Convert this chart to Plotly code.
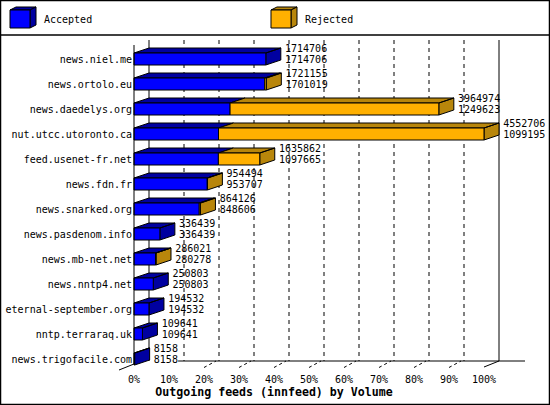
import plotly.graph_objects as go

# Veriler: innfeed giden beslemeler (toplam / kabul edilen)
hosts = ["news.niel.me", "news.ortolo.eu", "news.daedelys.org", "nut.utcc.utoronto.ca",
         "feed.usenet-fr.net", "news.fdn.fr", "news.snarked.org", "news.pasdenom.info",
         "news.mb-net.net", "news.nntp4.net", "eternal-september.org", "nntp.terraraq.uk",
         "news.trigofacile.com"]
total = [1714706, 1721155, 3964974, 4552706, 1635862, 954494, 864126, 336439,
         286021, 250803, 194532, 109641, 8158]
accepted = [1714706, 1701019, 1249623, 1099195, 1097665, 953707, 848606, 336439,
            280278, 250803, 194532, 109641, 8158]
pct_ticks = [0, 10, 20, 30, 40, 50, 60, 70, 80, 90, 100]

BLUE = "#0000FF"
BLUE_DARK = "#0000A0"
ORANGE = "#FFB000"
ORANGE_DARK = "#B8860B"
FONT = "DejaVu Sans Mono"

W, H = 550, 405
PLOT_H = 372           # plot area goes from top of page down to pixel 372
X0, XSCALE = 134, 3.5  # pixel of 0 %, pixels per percent
Y0, YSCALE = 59, 25    # pixel of first bar centre, pixels per bar

dx = 15 / XSCALE       # 3D depth in axis units
dy = 5 / YSCALE
h = 6 / YSCALE         # half height of a bar front

vmax = max(total)


def paper(px, py):
    # pixel -> paper coordinates (for the decorations outside the data)
    return px / W, 1 - py / PLOT_H


def poly(points):
    xs = [p[0] for p in points] + [points[0][0], None]
    ys = [p[1] for p in points] + [points[0][1], None]
    return xs, ys


faces = {"bf": ([], []), "bd": ([], []), "of": ([], []), "od": ([], [])}


def add(key, pts):
    xs, ys = poly(pts)
    faces[key][0].extend(xs)
    faces[key][1].extend(ys)


for i in range(len(hosts)):
    pa = accepted[i] / vmax * 100
    pt = total[i] / vmax * 100
    yt, yb = i - h, i + h
    add("bf", [(0, yt), (pa, yt), (pa, yb), (0, yb)])
    add("bd", [(0, yt), (pa, yt), (pa + dx, yt - dy), (dx, yt - dy)])
    if total[i] > accepted[i]:
        add("of", [(pa, yt), (pt, yt), (pt, yb), (pa, yb)])
        add("od", [(pa, yt), (pt, yt), (pt + dx, yt - dy), (pa + dx, yt - dy)])
        add("od", [(pt, yt), (pt + dx, yt - dy), (pt + dx, yb - dy), (pt, yb)])
    else:
        add("bd", [(pa, yt), (pa + dx, yt - dy), (pa + dx, yb - dy), (pa, yb)])

fig = go.Figure()
for key, col in [("bd", BLUE_DARK), ("od", ORANGE_DARK), ("bf", BLUE), ("of", ORANGE)]:
    fig.add_trace(go.Scatter(x=faces[key][0], y=faces[key][1], mode="lines",
                             fill="toself", fillcolor=col,
                             line=dict(color="black", width=1),
                             hoverinfo="skip", showlegend=False))

# Sayı etiketleri (üstte toplam, altta kabul edilen)
label_x = [t / vmax * 100 + dx + 1.2 for t in total]
fig.add_trace(go.Scatter(x=label_x, y=[i - 0.38 for i in range(len(hosts))],
                         text=[str(t) for t in total], mode="text",
                         textposition="middle right",
                         textfont=dict(family=FONT, size=10, color="black"),
                         hoverinfo="skip", showlegend=False))
fig.add_trace(go.Scatter(x=label_x, y=[i + 0.06 for i in range(len(hosts))],
                         text=[str(a) for a in accepted], mode="text",
                         textposition="middle right",
                         textfont=dict(family=FONT, size=10, color="black"),
                         hoverinfo="skip", showlegend=False))

# Izgara ve 3D zemin
floor_front = (370 - Y0) / YSCALE
floor_back = (361 - Y0) / YSCALE
wall_top = (40 - Y0) / YSCALE
shapes = []
for p in pct_ticks:
    shapes.append(dict(type="line", xref="x", yref="y", layer="below",
                       x0=p + dx, x1=p + dx, y0=wall_top, y1=floor_back,
                       line=dict(color="black", width=1,
                                 dash="solid" if p in (0, 100) else "4px,4px")))
    if 20 <= p <= 90:
        shapes.append(dict(type="line", xref="x", yref="y",
                           x0=p, x1=p + dx * 0.8, y0=floor_front - 0.1, y1=floor_back,
                           line=dict(color="black", width=1, dash="3px,3px")))
shapes.append(dict(type="line", xref="x", yref="y", x0=0, x1=0,
                   y0=(45 - Y0) / YSCALE, y1=(364 - Y0) / YSCALE,
                   line=dict(color="black", width=1)))
shapes.append(dict(type="line", xref="x", yref="y", x0=-dx, x1=0,
                   y0=floor_front, y1=(364 - Y0) / YSCALE,
                   line=dict(color="black", width=1)))
shapes.append(dict(type="line", xref="x", yref="y", x0=100, x1=100 + dx,
                   y0=(367 - Y0) / YSCALE, y1=floor_back,
                   line=dict(color="black", width=1)))
shapes.append(dict(type="line", xref="x", yref="y", x0=12.6, x1=(525 - X0) / XSCALE,
                   y0=floor_back, y1=floor_back,
                   line=dict(color="black", width=1)))

# Çerçeve ve lejant
bx0, by0 = paper(0.5, 0.5)
bx1, by1 = paper(549.5, 404.5)
shapes.append(dict(type="rect", xref="paper", yref="paper", x0=bx0, y0=by0, x1=bx1, y1=by1,
                   line=dict(color="black", width=1.5)))
lx0, ly = paper(0, 35)
lx1, _ = paper(W, 35)
shapes.append(dict(type="line", xref="paper", yref="paper", x0=lx0, x1=lx1, y0=ly, y1=ly,
                   line=dict(color="black", width=1.5)))


def cube(x, col, dark):
    pts_front = [(x, 10), (x + 20, 10), (x + 20, 28), (x, 28)]
    pts_top = [(x, 10), (x + 20, 10), (x + 26, 7), (x + 6, 7)]
    pts_side = [(x + 20, 10), (x + 26, 7), (x + 26, 25), (x + 20, 28)]
    out = []
    for pts, c in [(pts_top, dark), (pts_side, dark), (pts_front, col)]:
        path = "M " + " L ".join("%f,%f" % paper(*p) for p in pts) + " Z"
        out.append(dict(type="path", xref="paper", yref="paper", path=path,
                        fillcolor=c, line=dict(color="black", width=1)))
    return out


shapes += cube(10, BLUE, BLUE_DARK)
shapes += cube(271, ORANGE, ORANGE_DARK)

annotations = []
for x, name in [(42, "Accepted"), (303, "Rejected")]:
    ax, ay = paper(x, 20)
    annotations.append(dict(xref="paper", yref="paper", x=ax, y=ay, text=name,
                            xanchor="left", yanchor="middle", showarrow=False,
                            font=dict(family=FONT, size=10, color="black")))

fig.update_layout(
    width=W, height=H,
    margin=dict(l=0, r=0, t=0, b=H - PLOT_H),
    paper_bgcolor="white", plot_bgcolor="white",
    shapes=shapes, annotations=annotations,
    title=dict(text="<b>Outgoing feeds (innfeed) by Volume</b>",
               xref="container", yref="container", x=274 / W, y=1 - 392 / H,
               xanchor="center", yanchor="middle",
               font=dict(family=FONT, size=11.6, color="black")),
    xaxis=dict(range=[-X0 / XSCALE, (W - X0) / XSCALE], tickvals=pct_ticks,
               ticktext=[f"{p}%" for p in pct_ticks], showgrid=False, zeroline=False,
               showline=False, ticks="", tickfont=dict(family=FONT, size=10, color="black")),
    yaxis=dict(range=[(PLOT_H - Y0) / YSCALE, -Y0 / YSCALE],
               tickvals=list(range(len(hosts))), ticktext=hosts,
               anchor="free", position=X0 / W, showgrid=False, zeroline=False,
               showline=False, ticks="", ticklabelstandoff=2,
               tickfont=dict(family=FONT, size=10, color="black")),
)

# sayfa kenar boşluğunu kaldır, grafik 550x405 pencereye tam otursun
fig.write_html("out.html", config={"displayModeBar": False},
               post_script="document.body.style.margin='0';")
